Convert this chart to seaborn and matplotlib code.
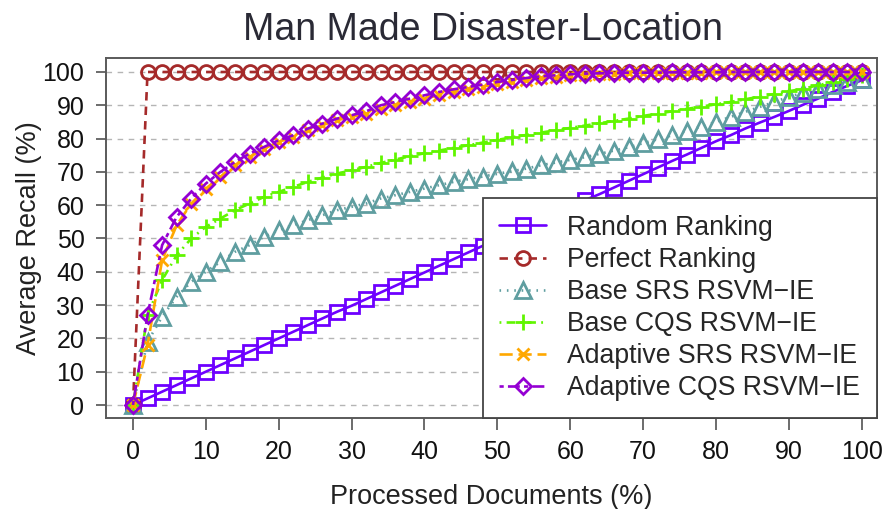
import matplotlib
matplotlib.use("Agg")
import matplotlib.pyplot as plt
import seaborn as sns
import numpy as np

# ---------------- data ----------------
processed = [0, 2, 4, 6, 8, 10, 12, 14, 16, 18, 20, 22, 24, 26, 28, 30, 32, 34, 36, 38, 40,
             42, 44, 46, 48, 50, 52, 54, 56, 58, 60, 62, 64, 66, 68, 70, 72, 74, 76, 78, 80,
             82, 84, 86, 88, 90, 92, 94, 96, 98, 100]

random_ranking = [0, 2, 4, 6, 8, 10, 12, 14, 16, 18, 20, 22, 24, 26, 28, 29.8, 31.8, 33.8, 35.8, 37.8, 39.8,
                  41.8, 43.8, 45.8, 47.8, 49.5, 51.5, 53.5, 55.5, 57.5, 59.5, 61.5, 63.3, 65.3, 67.3, 69.3,
                  71.3, 73.3, 75.2, 77.2, 79.2, 81, 83, 84.8, 86.5, 88.3, 90.2, 92, 94, 95.8, 97.5]

perfect_ranking = [0] + [100] * 50

base_srs = [0, 19, 26.5, 32.5, 37, 40, 43, 46, 48, 50.5, 52.5, 54, 55.5, 57, 58.5, 59.5, 60.5, 62, 63, 64, 65,
            66, 67, 67.8, 68.6, 69.4, 70.2, 71, 72, 72.8, 73.6, 74.4, 75.4, 76.4, 77.4, 78.6, 79.8, 81,
            82.3, 83.6, 85, 86.5, 88, 89.5, 91, 92.5, 93.8, 95, 96, 97, 98]

base_cqs = [0, 27, 37.5, 45, 50, 53.5, 56, 58.5, 60.5, 62.5, 64, 65.5, 67, 68.3, 69.5, 70.5, 71.5, 72.7, 73.7,
            74.7, 75.6, 76.4, 77.2, 78, 78.8, 79.6, 80.4, 81.1, 81.8, 82.5, 83.2, 83.9, 84.6, 85.3, 86,
            86.8, 87.5, 88.2, 88.9, 89.6, 90.3, 91, 91.8, 92.6, 93.4, 94.2, 95, 96, 97, 98, 99]

adaptive_srs = [0, 18, 43.5, 54, 60.5, 65, 68.5, 72, 74.5, 77, 79, 80.5, 82.5, 84, 85.5, 86.5, 87.5, 88.8, 90,
                91, 92, 93, 94, 94.8, 95.6, 96.4, 97, 97.6, 98.2, 98.6, 99, 99.2, 99.4, 99.5, 99.6, 99.7,
                99.7, 99.8, 99.8, 99.8, 99.9, 99.9, 99.9, 99.9, 100, 100, 100, 100, 100, 100, 100]

adaptive_cqs = [0, 27, 48, 56.5, 62, 66.5, 70, 73, 75.5, 77.5, 79.5, 81, 83, 84.5, 86, 87, 88.2, 90, 91, 92,
                93, 94, 94.8, 95.5, 96.2, 97, 97.6, 98.2, 98.7, 99, 99.3, 99.5, 99.6, 99.7, 99.8, 99.8,
                99.8, 99.9, 99.9, 99.9, 99.9, 100, 100, 100, 100, 100, 100, 100, 100, 100, 100]

series_labels = ["Random Ranking", "Perfect Ranking", "Base SRS RSVM\u2212IE", "Base CQS RSVM\u2212IE",
                 "Adaptive SRS RSVM\u2212IE", "Adaptive CQS RSVM\u2212IE"]
x_ticks = [0, 10, 20, 30, 40, 50, 60, 70, 80, 90, 100]
y_ticks = [0, 10, 20, 30, 40, 50, 60, 70, 80, 90, 100]

# ---------------- style ----------------
sns.set_theme(style="white")
plt.rcParams["font.family"] = ["Liberation Sans", "DejaVu Sans"]

fig = plt.figure(figsize=(8.87, 5.09), dpi=100)
ax = fig.add_axes([106 / 887, 91 / 509, 771 / 887, 360 / 509])

styles = [
    dict(color="#6E00FF", marker="s", ms=9.5, ls="-"),
    dict(color="#A52A2A", marker="o", ms=10, ls=(0, (3.2, 2.3))),
    dict(color="#5F9EA0", marker="^", ms=11, ls=(0, (0.6, 2.2))),
    dict(color="#60F500", marker="+", ms=12, ls=(0, (0.7, 2.0, 3.2, 2.0))),
    dict(color="#FFA800", marker="x", ms=9, ls=(0, (5, 2.2))),
    dict(color="#9400D3", marker="D", ms=8, ls=(0, (1.6, 1.6, 4.5, 1.6))),
]
all_series = [random_ranking, perfect_ranking, base_srs, base_cqs, adaptive_srs, adaptive_cqs]

for ys, lab, st in zip(all_series, series_labels, styles):
    sns.lineplot(x=processed, y=ys, ax=ax, label=lab, color=st["color"],
                 marker=st["marker"], markersize=st["ms"], markerfacecolor="none",
                 markeredgecolor=st["color"], markeredgewidth=2.0,
                 linestyle=st["ls"], linewidth=1.9, zorder=3)

ax.set_xlim(-3.7, 102.1)
ax.set_ylim(-3.9, 104.2)
ax.set_xticks(x_ticks)
ax.set_yticks(y_ticks)
ax.set_xticklabels([str(v) for v in x_ticks])
ax.set_yticklabels([str(v) for v in y_ticks])

for yv in y_ticks:
    ax.axhline(yv, color="#b5b5b5", lw=1.0, ls=(0, (4, 4)), zorder=1)

for sp in ax.spines.values():
    sp.set_color("#5a5a5a")
    sp.set_linewidth(1.4)

ax.tick_params(axis="x", which="major", direction="out", length=8.5, width=1.1,
               color="#444444", pad=7, labelsize=18, labelcolor="#111111", bottom=True)
ax.tick_params(axis="y", which="major", direction="out", length=7.5, width=1.1,
               color="#444444", pad=8, labelsize=18, labelcolor="#111111", left=True)

ax.set_xlabel("Processed Documents (%)", fontsize=19.5, color="#222222", labelpad=15)
ax.set_ylabel("Average Recall (%)", fontsize=19.5, color="#222222")
ax.yaxis.set_label_coords(-(106 - 42) / 771, 0.5)
ax.set_title("Man Made Disaster-Location", fontsize=27, color="#2a2a35", pad=13,
             x=(482.5 - 106) / 771)

leg = ax.legend(loc="lower right", bbox_to_anchor=(1.0, 0.0), borderaxespad=0.0,
                fontsize=19.2, frameon=True, fancybox=False, framealpha=1.0,
                handlelength=1.75, handletextpad=0.8, labelspacing=0.23, borderpad=0.62)
leg.get_frame().set_edgecolor("#444444")
leg.get_frame().set_linewidth(1.3)
leg.set_zorder(5)

fig.savefig("out.png", dpi=100)
